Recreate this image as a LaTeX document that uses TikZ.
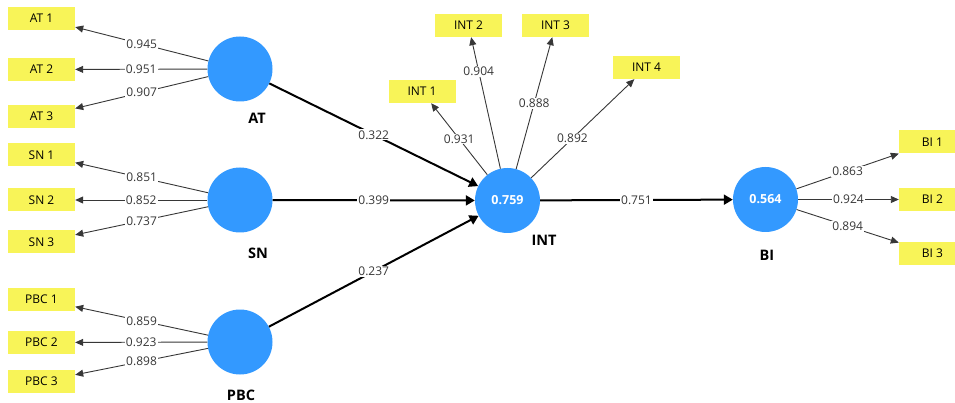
\documentclass[tikz,border=0pt]{standalone}
\usepackage{fontspec}
\setmainfont{Open Sans}
\usetikzlibrary{arrows.meta}
\definecolor{lvblue}{RGB}{51,153,255}
\definecolor{indyel}{RGB}{248,244,88}
\definecolor{lncol}{RGB}{55,55,55}
\begin{document}
\begin{tikzpicture}[x=1pt,y=-1pt,
  lv/.style={circle,fill=lvblue,minimum size=65pt,inner sep=0pt,text=white,font=\fontsize{12.5}{14}\selectfont\bfseries},
  indbox/.style={rectangle,fill=indyel,minimum width=67pt,minimum height=23pt,inner sep=0pt,font=\fontsize{12}{14}\selectfont},
  lvname/.style={font=\fontsize{14.5}{16}\selectfont\bfseries,inner sep=0pt},
  loadarrow/.style={draw=lncol,line width=0.9pt,-{Triangle[length=8pt,width=7pt]}},
  patharrow/.style={draw=black,line width=2pt,-{Triangle[length=9pt,width=10pt]}},
  lab/.style={fill=white,inner sep=1pt,font=\fontsize{12}{14}\selectfont,text=lncol}]
\useasboundingbox (0,0) rectangle (955,403);

% latent variables
\node[lv] (AT)  at (240,69)    {};
\node[lv] (SN)  at (240,200)   {};
\node[lv] (PBC) at (240,342)   {};
\node[lv] (INT) at (507.5,200.5) {0.759};
\node[lv] (BI)  at (765.5,199.5) {0.564};

\node[lvname] (ATn)  at (257,118) {AT};
\node[lvname] (SNn)  at (258,253) {SN};
\node[lvname] (PBCn) at (241,395) {PBC};
\node[lvname] (INTn) at (544,240) {INT};
\node[lvname] (BIn)  at (767,255) {BI};

% indicators
\node[indbox] (AT1) at (41.5,18.5)  {AT 1};
\node[indbox] (AT2) at (41.5,69.5)  {AT 2};
\node[indbox] (AT3) at (41.5,116.5) {AT 3};
\node[indbox] (SN1) at (41.5,155)   {SN 1};
\node[indbox] (SN2) at (41.5,200)   {SN 2};
\node[indbox] (SN3) at (41.5,242)   {SN 3};
\node[indbox] (PBC1) at (41.5,299.5) {PBC 1};
\node[indbox] (PBC2) at (41.5,342.5) {PBC 2};
\node[indbox] (PBC3) at (41.5,381.5) {PBC 3};
\node[indbox] (INT1) at (422,91.5)  {INT 1};
\node[indbox] (INT2) at (468.5,25.5) {INT 2};
\node[indbox] (INT3) at (555.5,25.5) {INT 3};
\node[indbox] (INT4) at (646.5,67.5) {INT 4};
\node[indbox] (BI1) at (932.5,142)   {BI 1};
\node[indbox] (BI2) at (932.5,199.5) {BI 2};
\node[indbox] (BI3) at (932.5,253.5) {BI 3};

% loadings
\draw[loadarrow] (AT) -- node[lab] (lAT1) {0.945} (AT1);
\draw[loadarrow] (AT) -- node[lab] (lAT2) {0.951} (AT2);
\draw[loadarrow] (AT) -- node[lab] (lAT3) {0.907} (AT3);
\draw[loadarrow] (SN) -- node[lab] (lSN1) {0.851} (SN1);
\draw[loadarrow] (SN) -- node[lab] (lSN2) {0.852} (SN2);
\draw[loadarrow] (SN) -- node[lab] (lSN3) {0.737} (SN3);
\draw[loadarrow] (PBC) -- node[lab] (lPBC1) {0.859} (PBC1);
\draw[loadarrow] (PBC) -- node[lab] (lPBC2) {0.923} (PBC2);
\draw[loadarrow] (PBC) -- node[lab] (lPBC3) {0.898} (PBC3);
\draw[loadarrow] (INT) -- node[lab] (lINT1) {0.931} (INT1);
\draw[loadarrow] (INT) -- node[lab,pos=0.74] (lINT2) {0.904} (INT2);
\draw[loadarrow] (INT) -- node[lab] (lINT3) {0.888} (INT3);
\draw[loadarrow] (INT) -- node[lab,pos=0.4] (lINT4) {0.892} (INT4);
\draw[loadarrow] (BI) -- node[lab] (lBI1) {0.863} (BI1);
\draw[loadarrow] (BI) -- node[lab] (lBI2) {0.924} (BI2);
\draw[loadarrow] (BI) -- node[lab] (lBI3) {0.894} (BI3);

% structural paths
\draw[patharrow] (AT) -- node[lab] (pAT) {0.322} (INT);
\draw[patharrow] (SN) -- node[lab] (pSN) {0.399} (INT);
\draw[patharrow] (PBC) -- node[lab] (pPBC) {0.237} (INT);
\draw[patharrow] (INT) -- node[lab] (pINT) {0.751} (BI);
\end{tikzpicture}
\end{document}
